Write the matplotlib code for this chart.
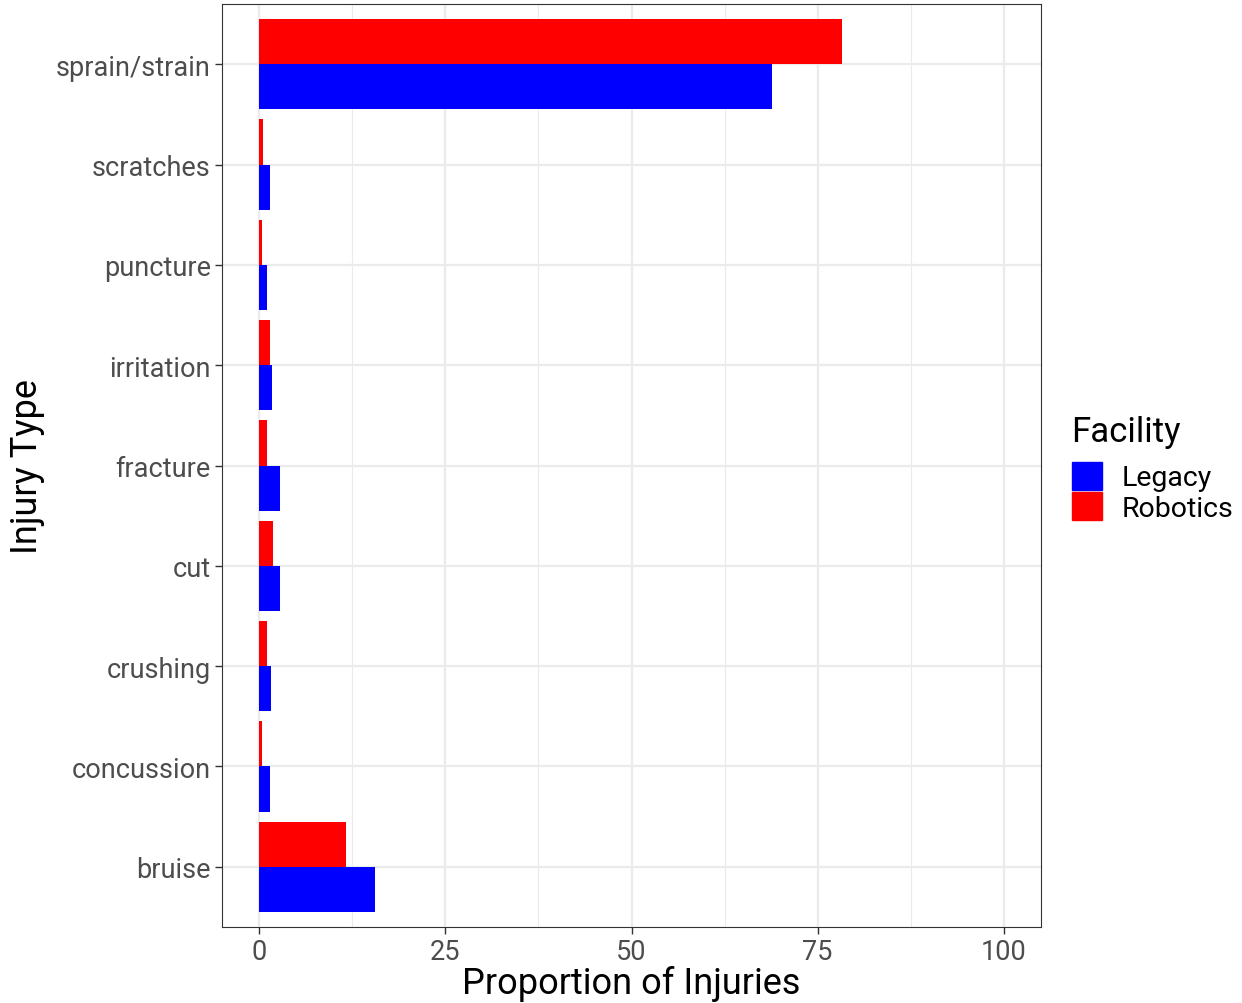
import matplotlib
matplotlib.use('Agg')
import matplotlib.pyplot as plt
import numpy as np
from matplotlib.patches import Patch

injury_types = ['bruise', 'concussion', 'crushing', 'cut', 'fracture',
                'irritation', 'puncture', 'scratches', 'sprain/strain']
legacy = [15.6, 1.4, 1.6, 2.85, 2.75, 1.75, 1.0, 1.4, 68.9]
robotics = [11.7, 0.4, 1.0, 1.85, 1.1, 1.5, 0.4, 0.45, 78.3]

COLOURS = {'Legacy': '#0000FF', 'Robotics': '#FF0000'}
plt.rcParams['font.family'] = ['Roboto', 'DejaVu Sans']

fig = plt.figure(figsize=(12.42, 10.04), dpi=100)
ax = fig.add_axes([222 / 1242, 1 - 928 / 1004, 819 / 1242, 923 / 1004])

y = np.arange(len(injury_types))
h = 0.45
ax.barh(y - h / 2, legacy, h, color=COLOURS['Legacy'], zorder=3)
ax.barh(y + h / 2, robotics, h, color=COLOURS['Robotics'], zorder=3)

ax.set_xlim(-5, 105)
ax.set_ylim(-0.6, len(injury_types) - 0.4)
ax.set_xticks([0, 25, 50, 75, 100])
ax.set_xticks([12.5, 37.5, 62.5, 87.5], minor=True)
ax.set_yticks(y)
ax.set_yticklabels(injury_types)

ax.grid(which='major', color='#EBEBEB', linewidth=1.6, zorder=0)
ax.grid(which='minor', axis='x', color='#EBEBEB', linewidth=0.8, zorder=0)
ax.tick_params(which='minor', length=0)
ax.tick_params(which='major', length=5, color='#333333', width=1,
               labelsize=19.5, labelcolor='#4D4D4D', pad=3)
for s in ax.spines.values():
    s.set_color('#333333')
    s.set_linewidth(0.8)

ax.set_xlabel('Proportion of Injuries', fontsize=26, labelpad=0)
ax.set_ylabel('Injury Type', fontsize=26, labelpad=8)

handles = [Patch(color=COLOURS['Legacy'], label='Legacy'),
           Patch(color=COLOURS['Robotics'], label='Robotics')]
lgd = ax.legend(handles=handles, title='Facility', loc='center left',
                bbox_to_anchor=(1.02, 0.497), frameon=False, fontsize=20.5,
                title_fontsize=25, handlelength=1.05, handleheight=1.15,
                labelspacing=0.02, handletextpad=0.7, borderaxespad=0.1)
lgd._legend_box.align = 'left'
lgd._legend_box.sep = 10

plt.savefig('out.png', dpi=100)
